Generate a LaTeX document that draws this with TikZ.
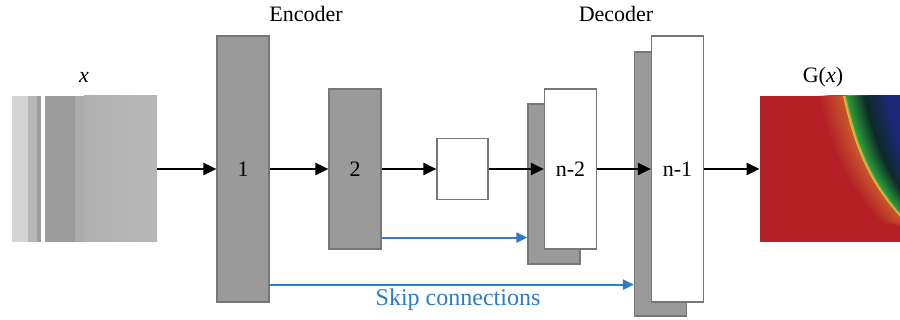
\documentclass[tikz,border=0pt]{standalone}
\usepackage{fontspec}
\setmainfont{Liberation Serif}
\usetikzlibrary{arrows.meta, positioning, calc}

\definecolor{blockgray}{HTML}{9A9A9A}
\definecolor{edgegray}{HTML}{777777}
\definecolor{skipblue}{HTML}{2E7BC6}
\definecolor{mapred}{HTML}{B42025}
\definecolor{maporange}{HTML}{D27A30}
\definecolor{mapgreen}{HTML}{2E9A3A}
\definecolor{mapdark}{HTML}{0E2A2A}
\definecolor{mapnavy}{HTML}{1C2878}

\begin{document}
\begin{tikzpicture}[
    x=0.5pt, y=-0.5pt,
    font=\rmfamily\fontsize{11}{13}\selectfont,
    layer/.style={draw=edgegray, line width=0.6pt, minimum width=26pt, inner sep=0pt, fill=blockgray},
    uplayer/.style={layer, fill=white},
    img/.style={minimum width=72pt, minimum height=73pt, inner sep=0pt},
    arrow/.style={line width=1.1pt, -{Triangle[length=6.5pt, width=6pt]}},
    skip/.style={draw=skipblue, line width=1pt, -{Triangle[length=5.5pt, width=5pt]}}
]
\useasboundingbox (0,0) rectangle (900,320);

% Input image
\node (in) [img] at (84.5,169) {};
\fill[black!17] (12,96) rectangle (28,242);
\fill[black!28] (28,96) rectangle (37,242);
\fill[black!38] (37,96) rectangle (41,242);
\fill[black!39] (45,96) rectangle (75,242);
\fill[black!33] (75,96) rectangle (84,242);
\shade[left color=black!31, right color=black!28] (84,96) rectangle (157,242);
\node (inlbl) at (84,77) {\textit{x}};

% Output image
\node (out) [img, minimum width=70pt, fill=mapred] at (830,169) {};
\begin{scope}
  \clip (out.north west) rectangle (out.south east);
  % orange halo
  \foreach \i in {0,...,11} {
    \pgfmathtruncatemacro\p{4+\i*5}
    \fill[maporange!\p!mapred] (819+2*\i,96) .. controls (831+2*\i,150) and (846+2*\i,185) .. (881+2*\i,222)
      -- (960,242) -- (960,90) -- cycle;
  }
  \fill[yellow!45!maporange] (843,96) .. controls (855,150) and (870,185) .. (905,222) -- (960,242) -- (960,90) -- cycle;
  \fill[yellow!40!mapgreen] (844.5,96) .. controls (856.5,150) and (871.5,185) .. (906.5,222) -- (960,242) -- (960,90) -- cycle;
  % green to dark
  \foreach \i in {0,...,9} {
    \pgfmathtruncatemacro\p{100-\i*10}
    \fill[mapgreen!\p!mapdark] (846+1.8*\i,96) .. controls (858+1.8*\i,150) and (873+1.8*\i,185) .. (908+1.8*\i,222)
      -- (960,242) -- (960,90) -- cycle;
  }
  % dark to navy
  \foreach \i in {0,...,11} {
    \pgfmathtruncatemacro\p{\i*9}
    \fill[mapnavy!\p!mapdark] (864+2*\i,96) .. controls (876+2*\i,150) and (891+2*\i,185) .. (926+2*\i,222)
      -- (960,242) -- (960,90) -- cycle;
  }
\end{scope}
\node (outlbl) at (823,77) {G(\textit{x})};

% Encoder
\node (b1) [layer, minimum height=133pt] at (243,169) {1};
\node (b2) [layer, minimum height=80pt] at (355,169) {2};
\node (mid) [uplayer, minimum width=25.5pt, minimum height=30.5pt] at (462.5,169) {};

% Decoder
\node (n2b) [layer, minimum height=80pt] at (554,184) {};
\node (n2) [uplayer, minimum height=80pt] at (570.5,169) {n-2};
\node (n1b) [layer, minimum height=132pt] at (660.5,184) {};
\node (n1) [uplayer, minimum height=133pt] at (677.5,169) {n-1};

\node (enc) at (306,14) {Encoder};
\node (dec) at (616,14) {Decoder};

% Links
\draw[arrow] (in) -- (b1);
\draw[arrow] (b1) -- (b2);
\draw[arrow] (b2) -- (mid);
\draw[arrow] (mid) -- (n2);
\draw[arrow] (n2) -- (n1);
\draw[arrow] (n1) -- (out);

% Skip connections
\draw[skip] ([yshift=6pt]b2.south east) -- ([yshift=6pt]b2.south east -| n2b.west);
\draw[skip] ([yshift=9pt]b1.south east) -- ([yshift=9pt]b1.south east -| n1b.west);
\node (skiplbl) [text=skipblue, font=\rmfamily\fontsize{12}{14}\selectfont] at (458,300) {Skip connections};

\end{tikzpicture}
\end{document}
